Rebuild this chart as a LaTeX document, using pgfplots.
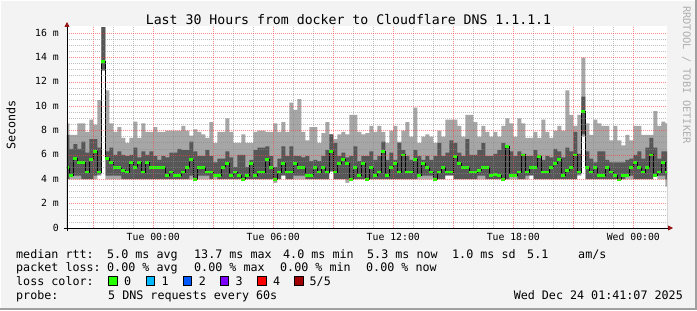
\documentclass[border=0pt]{standalone}
\usepackage{fontspec}
\setmainfont{DejaVu Sans Mono}
\usepackage{pgfplots}
\usepackage{pgfplotstable}
\pgfplotsset{compat=1.18}
\usetikzlibrary{arrows.meta}

\definecolor{bgc}{RGB}{243,243,243}
\definecolor{smokeA}{RGB}{166,166,166}
\definecolor{smokeB}{RGB}{87,87,87}
\definecolor{medgreen}{RGB}{38,255,0}
\definecolor{arrowred}{RGB}{150,20,20}
\definecolor{lc1}{RGB}{0,184,255}
\definecolor{lc2}{RGB}{0,89,255}
\definecolor{lc3}{RGB}{126,0,255}
\definecolor{lc4}{RGB}{255,0,0}
\definecolor{lc5}{RGB}{161,0,0}
\definecolor{framec}{RGB}{160,160,160}
\definecolor{wmark}{RGB}{175,175,175}

% x = hours relative to Tue 00:00 ; l1 = lowest ping, l2 = 2nd, h4 = 4th, h5 = highest, m = median (ms)
\pgfplotstableread{
x l1 l2 h4 h5 m
-4.4 4.0 4.0 7.65 8.6 5.0
-4.2 4.0 4.3 6.5 7.65 4.3
-4.0 4.0 4.3 6.9 7.65 5.7
-3.8 4.0 4.3 6.5 8.6 5.4
-3.6 4.0 4.0 7.1 8.6 5.4
-3.4 4.0 4.0 6.2 7.9 4.6
-3.2 4.0 4.0 7.3 8.9 5.6
-3.0 4.0 4.3 7.3 8.5 6.3
-2.8 4.3 4.4 6.6 10.5 4.6
-2.6 12.9 13.0 16.5 16.5 13.7
-2.4 4.0 4.3 6.3 11.3 5.7
-2.2 4.0 4.3 6.6 8.6 5.35
-2.0 4.0 4.3 6.0 7.9 5.0
-1.8 4.0 4.3 6.3 8.3 5.0
-1.6 4.0 4.0 6.0 7.4 4.7
-1.4 4.0 4.0 5.9 7.0 4.6
-1.2 4.0 4.0 6.0 7.4 5.35
-1.0 4.0 4.0 6.6 8.75 5.0
-0.8 4.0 4.0 5.8 7.4 5.35
-0.6 4.0 4.0 6.3 8.6 4.6
-0.4 4.0 4.0 6.0 7.9 5.35
-0.2 4.0 4.0 6.3 7.9 5.0
0.0 4.0 4.0 5.9 8.3 5.0
0.2 4.0 4.0 5.6 7.9 5.0
0.4 4.0 4.0 5.9 7.9 5.0
0.6 4.0 4.0 5.8 8.0 4.3
0.8 4.0 4.0 6.2 8.0 4.6
1.0 4.0 4.0 6.2 8.0 4.3
1.2 4.0 4.0 6.5 8.0 4.3
1.4 4.0 4.0 6.4 8.4 4.6
1.6 4.0 4.0 6.4 8.0 5.0
1.8 4.0 4.3 7.1 7.6 5.6
2.0 4.0 4.0 6.3 8.1 4.0
2.2 4.0 4.3 5.9 7.9 5.0
2.4 4.0 4.3 5.9 7.7 4.95
2.6 4.0 4.3 6.4 7.4 4.6
2.8 4.0 4.0 5.9 8.7 4.6
3.0 4.0 4.3 5.4 7.0 4.3
3.2 4.0 4.0 5.7 7.9 4.3
3.4 4.0 4.0 5.7 7.9 5.0
3.6 4.0 4.0 6.3 9.0 5.3
3.8 4.0 4.0 5.8 7.9 4.3
4.0 4.0 4.0 5.0 7.0 4.6
4.2 4.0 4.0 6.0 7.0 4.3
4.4 4.0 4.0 6.0 7.7 4.0
4.6 4.0 4.0 5.0 7.0 4.3
4.8 4.0 4.0 5.6 7.0 5.3
5.0 4.0 4.0 6.4 7.9 4.3
5.2 4.0 4.0 6.6 8.0 4.6
5.4 4.0 4.0 6.6 8.0 4.6
5.6 4.0 4.0 6.7 7.9 5.6
5.8 4.0 4.0 5.9 7.9 5.0
6.0 3.7 4.0 5.0 8.6 4.0
6.2 4.0 4.0 5.7 7.9 4.6
6.4 4.3 4.3 6.7 8.7 5.3
6.6 4.0 4.0 5.9 7.9 4.6
6.8 4.0 4.0 6.7 10.3 4.6
7.0 4.0 4.3 5.9 9.7 5.3
7.2 4.0 4.3 5.9 10.6 5.0
7.4 4.0 4.3 5.8 7.9 5.0
7.6 4.0 4.0 5.9 7.2 4.3
7.8 4.0 4.0 5.5 8.3 4.3
8.0 4.0 4.0 5.6 8.3 5.0
8.2 4.0 4.0 5.5 7.0 4.6
8.4 4.0 4.0 5.9 7.8 5.0
8.6 4.0 4.0 6.4 8.7 4.6
8.8 4.6 4.7 7.7 7.7 6.3
9.0 4.0 4.0 7.0 7.3 4.6
9.2 4.0 4.0 5.9 7.7 5.3
9.4 4.0 4.0 6.2 7.9 5.6
9.6 3.7 4.0 5.8 7.7 5.3
9.8 4.0 4.0 5.9 9.3 4.0
10.0 4.0 4.0 6.7 9.3 5.0
10.2 4.0 4.0 5.5 7.9 4.3
10.4 4.0 4.0 5.9 7.7 5.3
10.6 4.0 4.0 5.9 7.8 4.0
10.8 4.0 4.0 6.3 8.4 5.0
11.0 4.0 4.0 5.6 7.9 4.3
11.2 4.0 4.0 5.9 8.4 4.6
11.4 4.0 4.0 7.1 7.9 6.3
11.6 4.0 4.0 5.6 7.0 4.3
11.8 4.0 4.0 6.2 8.0 5.0
12.0 4.0 4.0 5.6 8.4 5.3
12.2 4.0 4.0 7.0 7.1 4.6
12.4 4.0 4.0 6.4 8.0 6.0
12.6 4.0 4.0 5.9 8.7 4.6
12.8 4.0 4.0 5.6 7.5 4.6
13.0 4.0 4.0 6.4 9.9 5.6
13.2 4.0 4.3 5.9 7.0 4.3
13.4 4.0 4.3 5.6 7.5 5.3
13.6 4.0 4.3 5.9 7.7 5.0
13.8 4.0 4.3 5.6 7.5 4.6
14.0 4.0 4.0 5.9 7.0 4.0
14.2 4.0 4.0 7.0 8.0 4.6
14.4 4.0 4.0 5.9 7.5 5.0
14.6 4.3 4.3 6.2 8.9 4.6
14.8 4.3 4.3 7.2 8.9 4.6
15.0 4.0 4.0 7.0 8.9 5.9
15.2 4.0 4.0 6.2 8.4 5.3
15.4 4.0 4.0 5.9 7.5 5.0
15.6 4.0 4.0 7.3 9.3 5.0
15.8 4.0 4.0 6.0 9.3 4.6
16.0 4.0 4.0 6.0 8.7 4.6
16.2 4.0 4.3 6.4 7.5 4.7
16.4 4.0 4.3 7.0 8.4 5.0
16.6 4.0 4.0 5.9 7.9 5.0
16.8 4.0 4.0 5.9 7.5 4.3
17.0 4.0 4.0 6.1 7.9 4.4
17.2 4.0 4.0 6.4 7.5 4.3
17.4 4.0 4.0 7.0 8.4 4.0
17.6 4.0 4.0 6.8 9.0 6.7
17.8 4.0 4.3 6.3 8.6 4.3
18.0 4.0 4.3 5.9 7.5 4.3
18.2 4.0 4.0 6.3 9.0 4.6
18.4 4.0 4.0 6.1 8.6 6.0
18.6 4.0 4.3 5.9 7.4 4.6
18.8 4.3 4.3 5.9 7.4 5.0
19.0 4.0 4.0 6.4 7.9 5.0
19.2 4.0 4.0 6.0 7.4 5.9
19.4 4.0 4.0 5.6 8.9 4.6
19.6 4.0 4.0 5.9 7.9 4.6
19.8 4.0 4.0 5.8 7.4 5.0
20.0 4.0 4.0 6.5 8.0 5.3
20.2 4.0 4.0 6.3 8.4 5.6
20.4 4.0 4.0 5.8 8.0 4.3
20.6 4.0 4.0 6.6 11.3 4.7
20.8 4.0 4.0 6.3 9.3 5.0
21.0 4.0 4.0 7.9 8.4 6.0
21.2 4.3 4.4 6.1 9.3 4.6
21.4 7.5 7.7 10.8 14.0 9.6
21.6 4.0 4.0 6.3 8.6 5.0
21.8 4.0 4.0 5.7 7.65 4.6
22.0 4.0 4.0 5.4 8.9 5.0
22.2 4.0 4.0 6.3 8.6 4.3
22.4 4.0 4.0 6.3 8.4 4.3
22.6 4.0 4.0 5.6 8.4 5.0
22.8 4.0 4.0 5.4 7.2 4.6
23.0 4.0 4.0 5.4 8.4 4.3
23.2 3.9 4.0 5.4 7.2 3.95
23.4 4.0 4.0 5.4 6.8 4.3
23.6 4.0 4.3 5.6 7.65 4.3
23.8 4.0 4.3 5.7 7.2 5.0
24.0 4.0 4.0 6.0 8.4 5.35
24.2 4.0 4.0 6.3 8.4 5.0
24.4 4.0 4.0 5.7 7.65 4.6
24.6 4.0 4.0 6.6 7.65 5.0
24.8 4.0 4.0 7.4 7.65 6.0
25.0 4.3 4.3 6.6 9.6 4.3
25.2 4.0 4.3 5.7 8.4 4.6
25.4 4.0 4.3 6.3 8.75 5.35
25.6 3.4 4.0 6.3 8.6 4.6
25.8 3.4 4.0 6.3 8.6 4.6
}\smoke

\begin{document}
\begin{tikzpicture}[x=1bp,y=1bp]
\useasboundingbox (0,0) rectangle (697,310);
\fill[bgc] (0,0) rectangle (697,310);
\draw[white, line width=1bp] (0.5,0) -- (0.5,309.5) -- (696,309.5);
\draw[framec, line width=2bp] (0,1) -- (696,1) -- (696,310);

\begin{axis}[
  at={(153.29bp,82bp)}, anchor=origin,
  scale only axis, width=600bp, height=202bp,
  xmin=-4.3147, xmax=25.6853, ymin=0, ymax=16.6,
  axis lines*=left,
  axis on top,
  axis background/.style={fill=white},
  x axis line style={black, line width=0.8bp, shorten >=-6bp, shorten <=-3bp, -{Triangle[length=5bp,width=5bp,color=arrowred]}},
  y axis line style={black, line width=0.8bp, shorten >=-4bp, shorten <=-3bp, -{Triangle[length=5bp,width=5bp,color=arrowred]}},
  xtick={-3,0,...,24},
  xticklabels={,Tue 00:00,,Tue 06:00,,Tue 12:00,,Tue 18:00,,Wed 00:00},
  minor x tick num=2,
  ytick={0,2,...,16},
  yticklabels={0\hspace{4bp},2 m,4 m,6 m,8 m,10 m,12 m,14 m,16 m},
  minor y tick num=3,
  grid=both,
  major grid style={color={rgb,255:red,255;green,60;blue,60}, opacity=0.6, line width=0.8bp, dash pattern=on 1bp off 1bp},
  minor grid style={color={rgb,255:red,140;green,140;blue,140}, opacity=0.55, line width=0.8bp, dash pattern=on 1bp off 1bp},
  major tick length=0pt, minor tick length=0pt,
  ticklabel style={font=\fontsize{9.8bp}{11bp}\selectfont, inner sep=0pt},
  xticklabel style={anchor=base, yshift=-12.7bp},
  yticklabel style={anchor=base east, xshift=-8bp, yshift=-3bp},
  /pgf/number format/assume math mode=true,
]
\addplot[const plot mark left, draw=none, fill=smokeA] table[x=x,y=h5]{\smoke} \closedcycle;
\addplot[const plot mark left, draw=none, fill=smokeB] table[x=x,y=h4]{\smoke} \closedcycle;
\addplot[const plot mark left, draw=none, fill=smokeA] table[x=x,y=l2]{\smoke} \closedcycle;
\addplot[const plot mark left, draw=none, fill=white] table[x=x,y=l1]{\smoke} \closedcycle;
\addplot[const plot mark left, black, line width=1bp] table[x=x,y=m]{\smoke};
\addplot[jump mark left, medgreen, line width=2.8bp] table[x=x,y=m]{\smoke};
\end{axis}

% title and labels
\node[anchor=base, font=\fontsize{13.2bp}{15bp}\selectfont] at (348.5,286) {Last 30 Hours from docker to Cloudflare DNS 1.1.1.1};
\node[rotate=90, font=\fontsize{11.7bp}{13bp}\selectfont] at (11,185) {Seconds};
\node[rotate=-90, text=wmark, font=\fontsize{10.4bp}{12bp}\selectfont] at (686.5,235) {RRDTOOL / TOBI OETIKER};

% legend
\begin{scope}[every node/.style={anchor=base west, inner sep=0pt, font=\fontsize{11.7bp}{13bp}\selectfont}]
\node at (16,52) {median rtt:};
\node at (107,52) {5.0 ms avg};
\node at (194,52) {13.7 ms max};
\node at (283,52) {4.0 ms min};
\node at (367,52) {5.3 ms now};
\node at (452,52) {1.0 ms sd};
\node at (527,52) {5.1};
\node at (578,52) {am/s};

\node at (16,38.5) {packet loss:};
\node at (107,38.5) {0.00 \% avg};
\node at (194,38.5) {0.00 \% max};
\node at (280,38.5) {0.00 \% min};
\node at (366,38.5) {0.00 \% now};

\node at (16,25) {loss color:};
\draw[black, line width=0.6bp, fill=medgreen] (108.5,25) rectangle (117,33.5);
\node at (124,25) {0};
\draw[black, line width=0.6bp, fill=lc1] (146,25) rectangle (154.5,33.5);
\node at (161.5,25) {1};
\draw[black, line width=0.6bp, fill=lc2] (183,25) rectangle (191.5,33.5);
\node at (198.7,25) {2};
\draw[black, line width=0.6bp, fill=lc3] (220,25) rectangle (228.5,33.5);
\node at (235.5,25) {3};
\draw[black, line width=0.6bp, fill=lc4] (257.5,25) rectangle (266,33.5);
\node at (273,25) {4};
\draw[black, line width=0.6bp, fill=lc5] (294.5,25) rectangle (303,33.5);
\node at (309.5,25) {5/5};

\node at (16,10.5) {probe:};
\node at (108,10.5) {5 DNS requests every 60s};
\node[anchor=base east] at (683,10.5) {Wed Dec 24 01:41:07 2025};
\end{scope}
\end{tikzpicture}
\end{document}
